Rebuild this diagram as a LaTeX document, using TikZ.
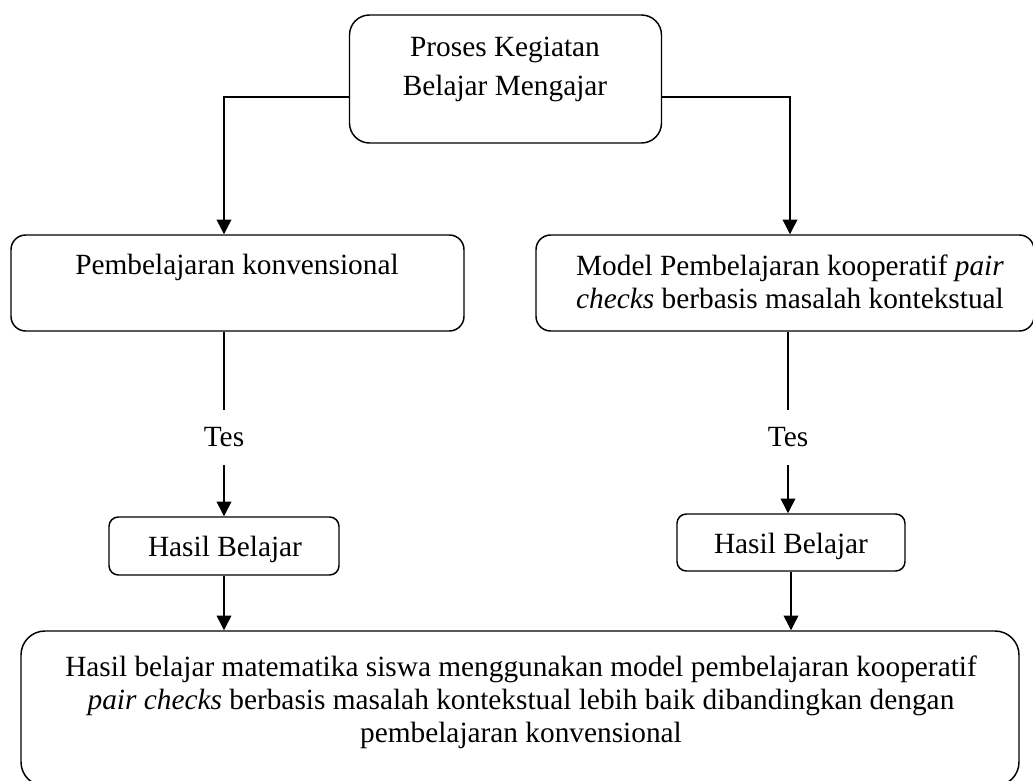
\documentclass[tikz,border=0pt]{standalone}
\usepackage{fontspec}
\setmainfont{Liberation Serif}
\usetikzlibrary{arrows.meta}
\begin{document}
\begin{tikzpicture}[x=0.75pt,y=-0.75pt,
  rbox/.style={draw,line width=1.1pt,inner sep=0pt},
  txt/.style={inner sep=0pt,align=center,anchor=base,font=\fontsize{22}{24.75}\selectfont},
  conn/.style={line width=1.1pt},
  arr/.style={line width=1.1pt,-{Triangle[width=11pt,length=11pt]}}]
\useasboundingbox (0,0) rectangle (1033,781);
% boxes
\node[rbox,rounded corners=15pt,minimum width=234pt,minimum height=96pt] (top) at (505.5,79) {};
\node[rbox,rounded corners=11pt,minimum width=339.75pt,minimum height=72pt] (lmid) at (237.5,283) {};
\node[rbox,rounded corners=11pt,minimum width=373.5pt,minimum height=72pt] (rmid) at (785,283) {};
\node[rbox,rounded corners=7pt,minimum width=172.5pt,minimum height=43.5pt] (lhasil) at (224,546) {};
\node[rbox,rounded corners=7pt,minimum width=171pt,minimum height=42.75pt] (rhasil) at (791,542.5) {};
\node[rbox,rounded corners=18pt,minimum width=748.5pt,minimum height=116.25pt] (bot) at (520,708.5) {};
% texts (anchored at the baseline of the last line)
\node[txt,font=\fontsize{22}{29.25}\selectfont] (toptxt) at (505,96) {Proses Kegiatan\\Belajar Mengajar};
\node[txt] (ltxt) at (237,275) {Pembelajaran konvensional};
\node[txt] (rtxt) at (790,309) {Model Pembelajaran kooperatif \textit{pair}\\\textit{checks} berbasis masalah kontekstual};
\node[txt,anchor=center,minimum height=41.25pt] (tesL) at (224,437.5) {Tes};
\node[txt,anchor=center,minimum height=41.25pt] (tesR) at (788,437.5) {Tes};
\node[txt] (lhtxt) at (225,556) {Hasil Belajar};
\node[txt] (rhtxt) at (791,553) {Hasil Belajar};
\node[txt] (bottxt) at (521,742) {Hasil belajar matematika siswa menggunakan model pembelajaran kooperatif\\\textit{pair checks} berbasis masalah kontekstual lebih baik dibandingkan dengan\\pembelajaran konvensional};
% connectors
\coordinate (tl) at (224,97);
\coordinate (tr) at (790,97);
\draw[arr] (top.west |- tl) -- (tl) -- (tl |- lmid.north);
\draw[arr] (top.east |- tr) -- (tr) -- (tr |- rmid.north);
\draw[conn] (lmid.south -| tesL) -- (tesL.north);
\draw[arr] (tesL.south) -- (tesL.south |- lhasil.north);
\draw[conn] (rmid.south -| tesR) -- (tesR.north);
\draw[arr] (tesR.south) -- (tesR.south |- rhasil.north);
\draw[arr] (lhasil.south) -- (lhasil.south |- bot.north);
\draw[arr] (rhasil.south) -- (rhasil.south |- bot.north);
\end{tikzpicture}
\end{document}
